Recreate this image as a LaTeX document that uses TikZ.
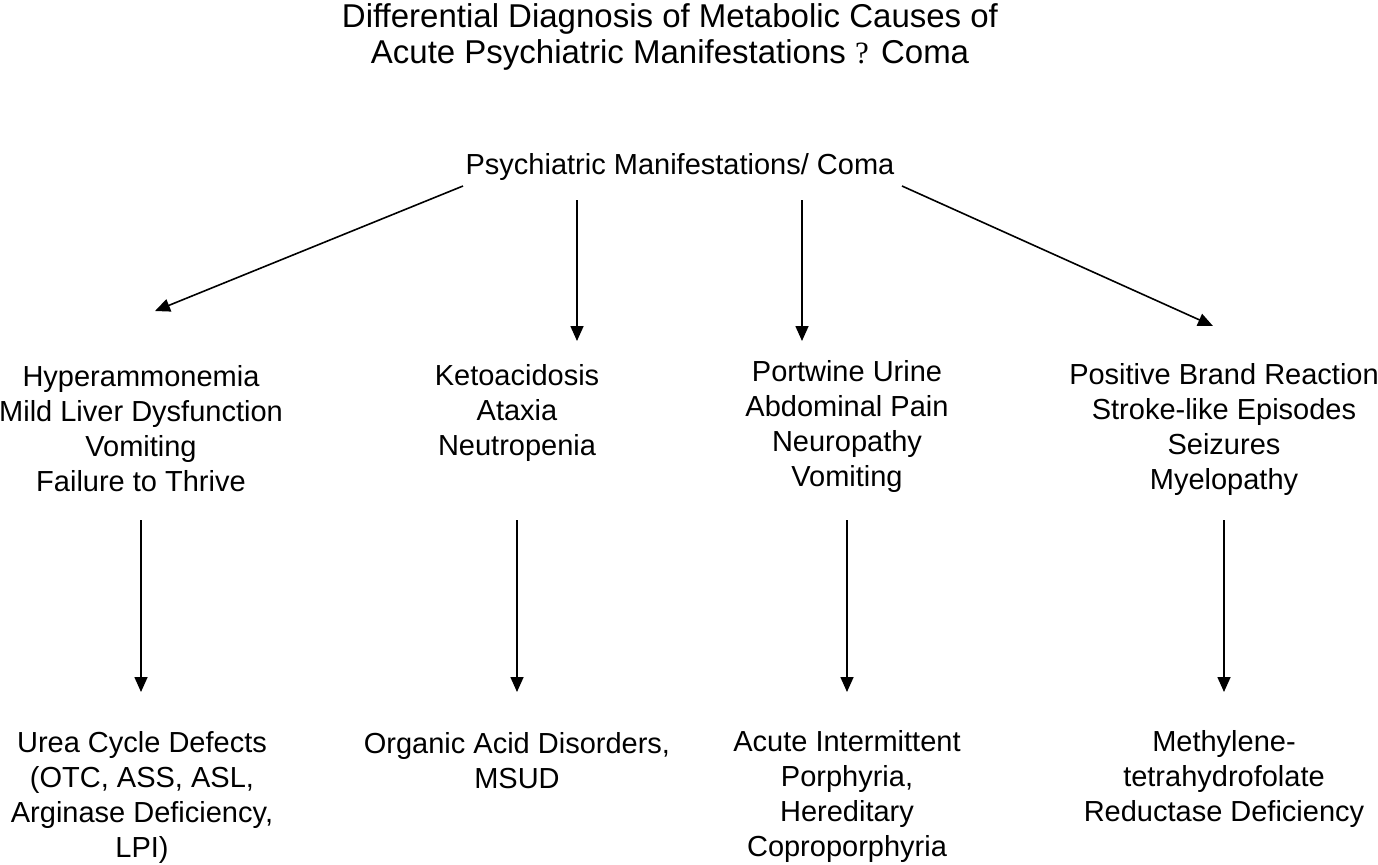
\documentclass[tikz,border=0pt]{standalone}
\usepackage{fontspec}
\setmainfont{Liberation Sans}
\newfontfamily\qfont{Liberation Serif}
\usetikzlibrary{arrows.meta}
\begin{document}
\begin{tikzpicture}[x=0.5pt,y=-0.5pt,
  txt/.style={align=center,inner sep=0pt,font=\fontsize{14.5pt}{17.5pt}\selectfont},
  ttl/.style={align=center,inner sep=0pt,font=\fontsize{16.5pt}{18pt}\selectfont},
  arr/.style={line width=0.8pt,-{Triangle[length=7.5pt,width=6.5pt]}}]
\useasboundingbox (0,0) rectangle (1378,864);
\node[ttl] (title) at (670,37) {Differential Diagnosis of Metabolic Causes of\\Acute Psychiatric Manifestations {\qfont\fontsize{15.5pt}{18pt}\selectfont ?} Coma};
\node[txt] (root) at (680,167) {Psychiatric Manifestations/ Coma};
\node[txt] (a) at (141,429) {Hyperammonemia\\Mild Liver Dysfunction\\Vomiting\\Failure to Thrive};
\node[txt] (b) at (517,413) {Ketoacidosis\\Ataxia\\Neutropenia};
\node[txt] (c) at (847,426) {Portwine Urine\\Abdominal Pain\\Neuropathy\\Vomiting};
\node[txt] (d) at (1224,429) {Positive Brand Reaction\\Stroke-like Episodes\\Seizures\\Myelopathy};
\node[txt] (a2) at (142,797) {Urea Cycle Defects\\(OTC, ASS, ASL,\\Arginase Deficiency,\\LPI)};
\node[txt] (b2) at (517,761) {Organic Acid Disorders,\\MSUD};
\node[txt] (c2) at (847,796) {Acute Intermittent\\Porphyria,\\Hereditary\\Coproporphyria};
\node[txt] (d2) at (1224,779) {Methylene-\\tetrahydrofolate\\Reductase Deficiency};
% connector end points
\coordinate (r1) at (463,186); \coordinate (a1) at (155,311);
\coordinate (r2) at (577,200); \coordinate (b1) at (577,341);
\coordinate (r3) at (802,200); \coordinate (c1) at (802,341);
\coordinate (r4) at (902,186); \coordinate (d1) at (1213,326);
\coordinate (as) at (141,520); \coordinate (ae) at (141,692);
\coordinate (bs) at (517,520); \coordinate (be) at (517,692);
\coordinate (cs) at (847,520); \coordinate (ce) at (847,692);
\coordinate (ds) at (1224,520); \coordinate (de) at (1224,692);
\draw[arr] (r1) -- (a1);
\draw[arr] (r2) -- (b1);
\draw[arr] (r3) -- (c1);
\draw[arr] (r4) -- (d1);
\draw[arr] (as) -- (ae);
\draw[arr] (bs) -- (be);
\draw[arr] (cs) -- (ce);
\draw[arr] (ds) -- (de);
\end{tikzpicture}
\end{document}
